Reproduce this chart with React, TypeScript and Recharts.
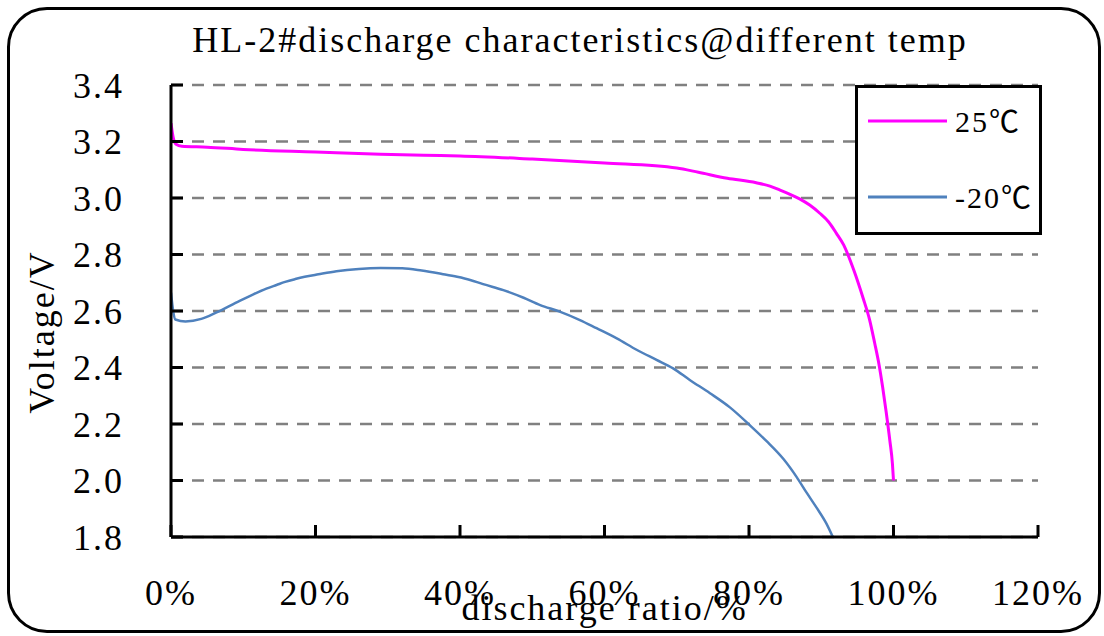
import React from "react";
import { LineChart, Line, XAxis, YAxis, CartesianGrid, Legend, Label } from "recharts";

// discharge ratio (%) and voltage (V)
const pct25 = [0, 0.3, 0.7, 1.5, 5, 10, 20, 29, 35, 40, 50, 60, 70, 73, 77, 81, 82.9, 84.3, 85.6, 87, 88.4, 89.8, 91, 92.1, 93.1, 94.5, 95.8, 96.7, 97.4, 98, 98.5, 99, 99.5, 99.85, 100];
const volt25 = [3.265, 3.215, 3.19, 3.183, 3.18, 3.172, 3.163, 3.155, 3.151, 3.149, 3.138, 3.124, 3.106, 3.091, 3.07, 3.054, 3.042, 3.028, 3.014, 2.997, 2.975, 2.946, 2.916, 2.875, 2.834, 2.745, 2.645, 2.568, 2.486, 2.41, 2.33, 2.24, 2.14, 2.06, 2.0];

const pctM20 = [0, 0.3, 0.6, 2, 4.2, 6.3, 9.5, 11.4, 13.2, 14.6, 15.8, 17.2, 18.5, 20.4, 22.9, 26, 29, 32, 34.7, 37.5, 39.6, 41.4, 43.2, 46, 48.8, 51.1, 53.8, 56.6, 58.9, 61.7, 64.5, 67.2, 69.5, 71.8, 74.6, 77.4, 80.1, 82.4, 84.8, 86.6, 88, 89.4, 90.7, 91.6];
const voltM20 = [2.665, 2.6, 2.57, 2.563, 2.572, 2.595, 2.636, 2.659, 2.679, 2.692, 2.703, 2.713, 2.721, 2.73, 2.741, 2.749, 2.752, 2.751, 2.743, 2.731, 2.721, 2.71, 2.695, 2.674, 2.647, 2.621, 2.598, 2.568, 2.539, 2.503, 2.462, 2.427, 2.397, 2.356, 2.309, 2.258, 2.196, 2.14, 2.075, 2.012, 1.956, 1.902, 1.848, 1.8];

const xTicks = [0, 20, 40, 60, 80, 100, 120];
const yTicks = [1.8, 2.0, 2.2, 2.4, 2.6, 2.8, 3.0, 3.2, 3.4];

const seriesNames = ["25℃", "-20℃"];
const seriesColors = ["#FF00FF", "#4F81BD"];

const data25 = pct25.map((x, i) => ({ x, v: volt25[i] }));
const dataM20 = pctM20.map((x, i) => ({ x, v: voltM20[i] }));

const FONT = "'Liberation Serif', 'Times New Roman', 'Noto Sans CJK SC', serif";

const LegendBox = ({ payload }: any) => {
  const items = [...(payload || [])].sort(
    (a: any, b: any) => seriesNames.indexOf(a.value) - seriesNames.indexOf(b.value)
  );
  return (
    <svg width={187} height={150} style={{ display: "block" }}>
      <rect x={1.5} y={1.5} width={184} height={147} fill="#fff" stroke="#000" strokeWidth={3} />
      {items.map((p: any, i: number) => (
        <g key={p.value} transform={`translate(0, ${36 + i * 76})`}>
          <line x1={13} x2={92} y1={0} y2={0} stroke={p.color} strokeWidth={3} />
          <text x={100} y={0} dy={11} style={{ fontSize: 30, fontFamily: FONT }} fill="#000">
            {p.value}
          </text>
        </g>
      ))}
    </svg>
  );
};

export default function App() {
  return (
    <div
      style={{
        position: "absolute",
        left: 0,
        top: 0,
        width: 1104,
        height: 636,
        background: "#fff",
        fontFamily: FONT,
        letterSpacing: "2px",
        overflow: "hidden",
      }}
    >
      <style>{`.recharts-wrapper text { font-family: ${FONT} !important; }`}</style>
      <div
        style={{
          position: "absolute",
          left: 7,
          top: 7,
          width: 1088,
          height: 620,
          border: "3px solid #000",
          borderRadius: 40,
        }}
      />
      <div
        style={{
          position: "absolute",
          left: 80,
          top: 19,
          width: 1000,
          textAlign: "center",
          fontSize: 36,
          color: "#000",
          lineHeight: "normal",
          whiteSpace: "nowrap",
        }}
      >
        HL-2#discharge characteristics@different temp
      </div>
      <div
        style={{
          position: "absolute",
          left: 42 - 150,
          top: 332 - 21,
          width: 300,
          height: 42,
          textAlign: "center",
          fontSize: 36,
          lineHeight: "42px",
          transform: "rotate(-90deg)",
          whiteSpace: "nowrap",
        }}
      >
        Voltage/V
      </div>
      <LineChart
        width={1104}
        height={636}
        margin={{ top: 85, right: 66, left: 91, bottom: 0 }}
        style={{ position: "absolute", left: 0, top: 0 }}
      >
        <CartesianGrid vertical={false} stroke="#808080" strokeDasharray="12 9" strokeWidth={2.5} />
        <XAxis
          type="number"
          dataKey="x"
          domain={[0, 120]}
          ticks={xTicks}
          tickFormatter={(v: number) => `${v}%`}
          height={99}
          tickSize={-12}
          tickMargin={54}
          axisLine={{ stroke: "#000", strokeWidth: 3 }}
          tickLine={{ stroke: "#000", strokeWidth: 3 }}
          tick={{ fill: "#000", fontSize: 36, style: { fontFamily: FONT } }}
          allowDataOverflow
        >
          <Label
            value="discharge ratio/%"
            position="insideBottom"
            offset={16}
            style={{ fontSize: 36, fontFamily: FONT, fill: "#000" }}
          />
        </XAxis>
        <YAxis
          type="number"
          domain={[1.8, 3.4]}
          ticks={yTicks}
          tickFormatter={(v: number) => v.toFixed(1)}
          width={80}
          tickSize={-12}
          tickMargin={59}
          axisLine={{ stroke: "#000", strokeWidth: 3 }}
          tickLine={{ stroke: "#000", strokeWidth: 3 }}
          tick={{ fill: "#000", fontSize: 36, style: { fontFamily: FONT } }}
          allowDataOverflow
        />
        <Legend
          layout="vertical"
          align="center"
          verticalAlign="middle"
          content={<LegendBox />}
          wrapperStyle={{ left: 855, top: 85, width: 187, height: 150 }}
        />
        <Line
          data={data25}
          dataKey="v"
          name={seriesNames[0]}
          type="monotone"
          stroke={seriesColors[0]}
          strokeWidth={3}
          dot={false}
          activeDot={false}
          isAnimationActive={false}
        />
        <Line
          data={dataM20}
          dataKey="v"
          name={seriesNames[1]}
          type="monotone"
          stroke={seriesColors[1]}
          strokeWidth={2.5}
          dot={false}
          activeDot={false}
          isAnimationActive={false}
        />
      </LineChart>
    </div>
  );
}
